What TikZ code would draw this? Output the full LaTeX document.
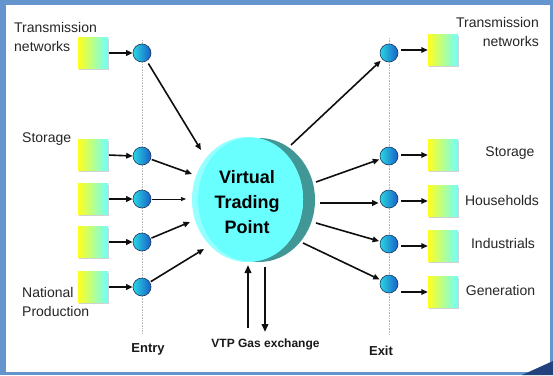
\documentclass[tikz,border=0pt]{standalone}
\usepackage{fontspec}
\setmainfont{Liberation Sans}
\usetikzlibrary{arrows.meta,shapes.geometric,shadows}
\definecolor{frameblue}{RGB}{100,150,205}
\definecolor{darkwedge}{RGB}{35,65,125}
\definecolor{sqyellow}{RGB}{255,255,30}
\definecolor{sqcyan}{RGB}{110,255,255}
\definecolor{dotcyan}{RGB}{40,215,225}
\definecolor{dotblue}{RGB}{25,95,200}
\definecolor{dotedge}{RGB}{30,55,95}
\definecolor{vtpface}{RGB}{105,255,255}
\definecolor{vtprim}{RGB}{150,255,255}
\definecolor{vtpside}{RGB}{65,150,150}
\definecolor{arrowblack}{RGB}{15,15,15}
\begin{document}
\begin{tikzpicture}[x=1pt,y=-1pt,
  srcbox/.style={rectangle, minimum width=30pt, minimum height=31pt, inner sep=0pt,
    left color=sqyellow, right color=sqcyan,
    drop shadow={shadow xshift=1.2pt,shadow yshift=-1.2pt,fill=black!35,opacity=0.5}},
  pointdot/.style={circle, minimum size=18pt, inner sep=0pt,
    left color=dotcyan, right color=dotblue, draw=dotedge, line width=0.6pt},
  arr/.style={draw=arrowblack, line width=1.6pt, -{Triangle[length=6.5pt,width=5.5pt]}},
  thinarr/.style={draw=arrowblack, line width=0.7pt, -{Triangle[length=5pt,width=4pt]}},
  bigarr/.style={draw=arrowblack, line width=2.2pt, -{Triangle[length=8pt,width=6.5pt]}},
  guide/.style={draw=gray!55, line width=0.6pt, densely dotted},
  lab/.style={font=\fontsize{14}{19}\selectfont, text=black!85, inner sep=0pt},
  boldlab/.style={font=\fontsize{13}{16}\selectfont\bfseries, text=black!90, inner sep=0pt},
]
\useasboundingbox (0,0) rectangle (553,375);
% frame
\fill[frameblue] (0,0) rectangle (553,375);
\fill[white] (6,5) rectangle (550,372);
\fill[darkwedge] (522,375) -- (553,361) -- (553,375) -- cycle;

% guide lines
\coordinate (eTop) at (142,40);
\coordinate (eBot) at (142,333);
\coordinate (xTop) at (389,38);
\coordinate (xBot) at (389,335);
\draw[guide] (eTop) -- (eBot);
\draw[guide] (xTop) -- (xBot);

% central disk
\fill[vtpside] (259,200) ellipse [x radius=56pt, y radius=62pt];
\node[ellipse, minimum width=111pt, minimum height=125pt, fill=vtprim, inner sep=0pt] (vtp) at (247.5,199.5) {};
\fill[vtpface] (250.5,199.5) ellipse [x radius=52.5pt, y radius=62pt];
\node[font=\fontsize{18}{25}\selectfont\bfseries, align=center, inner sep=0pt] (vtpt) at (247,202) {Virtual\\Trading\\Point};

% left squares
\node[srcbox] (sL1) at (93,53) {};
\node[srcbox] (sL2) at (93,155) {};
\node[srcbox] (sL3) at (93,199) {};
\node[srcbox] (sL4) at (93,242) {};
\node[srcbox] (sL5) at (93,287) {};
% left circles
\node[pointdot] (cL1) at (142,53) {};
\node[pointdot] (cL2) at (142,156) {};
\node[pointdot] (cL3) at (142,199) {};
\node[pointdot] (cL4) at (142,242) {};
\node[pointdot] (cL5) at (142,287) {};
% right circles
\node[pointdot] (cR1) at (389,53) {};
\node[pointdot] (cR2) at (389,156) {};
\node[pointdot] (cR3) at (389,199) {};
\node[pointdot] (cR4) at (389,244) {};
\node[pointdot] (cR5) at (389,284) {};
% right squares
\node[srcbox] (sR1) at (443,50) {};
\node[srcbox] (sR2) at (443,155) {};
\node[srcbox] (sR3) at (443,201) {};
\node[srcbox] (sR4) at (443,246) {};
\node[srcbox] (sR5) at (443,292) {};

% square -> circle (entry)
\foreach \i in {1,...,5}{
  \draw[arr, shorten <=1pt] (sL\i.east) -- (cL\i.west);
}
% circle -> square (exit)
\foreach \i in {1,...,5}{
  \draw[arr] ([xshift=3pt]cR\i.east |- sR\i.west) -- (sR\i.west);
}

% entry circles -> VTP
\coordinate (t1) at (201,150);
\coordinate (t2) at (192,174);
\coordinate (t3) at (186,199);
\coordinate (t4) at (190,222);
\coordinate (t5) at (204,249);
\draw[arr, shorten <=3pt] (cL1) -- (t1);
\draw[arr, shorten <=1pt] (cL2) -- (t2);
\draw[thinarr, shorten <=1pt] (cL3) -- (t3);
\draw[arr, shorten <=1pt] (cL4) -- (t4);
\draw[arr, shorten <=1pt] (cL5) -- (t5);

% VTP -> exit circles
\coordinate (r1) at (291,145);
\coordinate (r2) at (316,182);
\coordinate (r3) at (320,203);
\coordinate (r4) at (316,223);
\coordinate (r5) at (303,243);
\draw[arr, shorten >=2pt] (r1) -- (cR1);
\draw[arr, shorten >=1pt] (r2) -- (cR2);
\draw[arr, shorten >=1pt] (r3) -- (cR3.west |- r3);
\draw[arr, shorten >=1pt] (r4) -- (cR4);
\draw[arr, shorten >=1pt] (r5) -- (cR5);

% gas exchange arrows
\coordinate (gUpS) at (248,328);
\coordinate (gUpE) at (248,265);
\coordinate (gDnS) at (265,267);
\coordinate (gDnE) at (265,332);
\draw[bigarr] (gUpS) -- (gUpE);
\draw[bigarr] (gDnS) -- (gDnE);

% labels left
\node[lab, align=left, anchor=west] (lTrans) at (14,36.5) {Transmission\\networks};
\node[lab, anchor=west] (lStor) at (22,139) {Storage};
\node[lab, align=left, anchor=west] (lNat) at (22,301.5) {National\\Production};
% labels right
\node[lab, align=right, anchor=east] (rTrans) at (539,32) {Transmission\\networks};
\node[lab] (rStor) at (510,153) {Storage};
\node[lab] (rHouse) at (502,200) {Households};
\node[lab] (rInd) at (503,243) {Industrials};
\node[lab] (rGen) at (500.5,290) {Generation};

% bottom labels
\node[boldlab] (entry) at (148,349) {Entry};
\node[boldlab] (exit) at (381,351) {Exit};
\node[boldlab, font=\fontsize{12}{14}\selectfont\bfseries] (gas) at (265.5,344) {VTP Gas exchange};
\end{tikzpicture}
\end{document}
